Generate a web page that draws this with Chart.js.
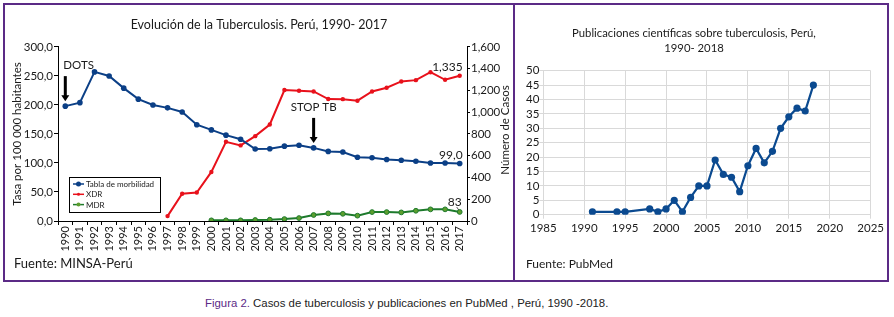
<!DOCTYPE html>
<html lang="es">
<head>
<meta charset="utf-8">
<script src="https://cdn.jsdelivr.net/npm/chart.js@4.4.1/dist/chart.umd.min.js"></script>
<style>
  html, body { margin: 0; padding: 0; background: #fff; }
  body { width: 894px; height: 317px; position: relative; overflow: hidden; font-family: Lato, sans-serif; }
  .marco { position: absolute; left: 3px; top: 3px; width: 886px; height: 279px; border: 2px solid #5b2a86; box-sizing: border-box; }
  .divisor { position: absolute; left: 513px; top: 3px; width: 2px; height: 279px; background: #5b2a86; }
  #graf1 { position: absolute; left: 5px; top: 5px; }
  #graf2 { position: absolute; left: 515px; top: 5px; }
  .fuente { position: absolute; font-size: 12px; color: #1a1a1a; top: 256px; }
  .pie { position: absolute; left: 205px; top: 297px; white-space: nowrap;
         font-family: "Liberation Sans", Arial, sans-serif; font-size: 11.4px; color: #222; }
  .pie span { color: #5b2a86; }
</style>
</head>
<body>
<div class="marco"></div>
<div class="divisor"></div>
<canvas id="graf1" width="508" height="275"></canvas>
<canvas id="graf2" width="372" height="275"></canvas>
<div class="fuente" style="left:14px; font-size:13px; top:255px">Fuente: MINSA-Perú</div>
<div class="fuente" style="left:526px">Fuente: PubMed</div>
<div class="pie"><span>Figura 2.</span> Casos de tuberculosis y publicaciones en PubMed , Perú, 1990 -2018.</div>

<script>
// Datos del grafico izquierdo (1990 - 2017)
var anios = ['1990', '1991', '1992', '1993', '1994', '1995', '1996', '1997', '1998', '1999',
             '2000', '2001', '2002', '2003', '2004', '2005', '2006', '2007', '2008', '2009',
             '2010', '2011', '2012', '2013', '2014', '2015', '2016', '2017'];
var morbilidad = [198, 204, 257, 250, 229, 210, 200, 195, 188, 166,
                  157, 148, 141, 124, 124.5, 129, 130.5, 126, 120, 119,
                  110, 109, 106, 104.6, 103, 100, 100, 99];
var casosXDR = [null, null, null, null, null, null, null, 45, 250, 262,
                451, 728, 695, 780, 887, 1204, 1197, 1191, 1121, 1120,
                1106, 1191, 1225, 1283, 1295, 1368, 1298, 1335];
var casosMDR = [null, null, null, null, null, null, null, null, null, null,
                6, 6, 6, 9, 12, 18, 27, 55, 70, 66,
                49, 82, 82, 79, 94, 107, 107, 83];

// Datos del grafico derecho (publicaciones)
var aniosPub = [1991, 1994, 1995, 1998, 1999, 2000, 2001, 2002, 2003, 2004, 2005, 2006,
                2007, 2008, 2009, 2010, 2011, 2012, 2013, 2014, 2015, 2016, 2017, 2018];
var publicaciones = [1, 1, 1, 2, 1, 2, 5, 1, 6, 10, 10, 19,
                     14, 13, 8, 17, 23, 18, 22, 30, 34, 37, 36, 45];

var FUENTE = 'Lato, sans-serif';
var AZUL = '#0b3f86';
var ROJO = '#e8111b';
var VERDE = '#1d7a2c';
var TEXTO = '#1a1a1a';

// dibuja una flecha negra hacia abajo
function flecha(ctx, x, punta, largo) {
    ctx.fillStyle = '#000';
    ctx.fillRect(x - 1.5, punta - largo, 3, largo - 5);
    ctx.beginPath();
    ctx.moveTo(x - 4, punta - 6);
    ctx.lineTo(x + 4, punta - 6);
    ctx.lineTo(x, punta);
    ctx.closePath();
    ctx.fill();
}

var anotaciones = {
    id: 'anotaciones',
    afterDatasetsDraw: function (chart) {
        var ctx = chart.ctx;
        var ca = chart.chartArea;
        var azul = chart.getDatasetMeta(0).data;
        var rojo = chart.getDatasetMeta(1).data;
        var verde = chart.getDatasetMeta(2).data;
        var ult = anios.length - 1;
        ctx.save();

        // DOTS y STOP TB
        var p0 = azul[0], p17 = azul[17];
        flecha(ctx, p0.x, p0.y - 5, 25);
        flecha(ctx, p17.x, p17.y - 5, 25);
        ctx.font = '11.5px ' + FUENTE;
        ctx.fillStyle = TEXTO;
        ctx.textBaseline = 'middle';
        ctx.textAlign = 'left';
        ctx.fillText('DOTS', p0.x - 2, p0.y - 5 - 25 - 11);
        ctx.textAlign = 'center';
        ctx.fillText('STOP TB', p17.x, p17.y - 5 - 25 - 11);

        // etiquetas del ultimo valor
        ctx.font = '12px ' + FUENTE;
        ctx.textAlign = 'right';
        ctx.fillText('1,335', rojo[ult].x + 3, rojo[ult].y - 9);
        ctx.fillText('99,0', azul[ult].x + 3, azul[ult].y - 8);
        ctx.fillText('83', verde[ult].x + 2, verde[ult].y - 10);
        ctx.strokeStyle = '#333';
        ctx.lineWidth = 0.8;
        ctx.beginPath();
        ctx.moveTo(verde[ult].x - 3, verde[ult].y - 5);
        ctx.lineTo(verde[ult].x - 1, verde[ult].y - 2);
        ctx.stroke();

        // titulo del eje derecho (lectura de abajo hacia arriba)
        ctx.save();
        ctx.translate(chart.width - 8, (ca.top + ca.bottom) / 2 - 4);
        ctx.rotate(-Math.PI / 2);
        ctx.textAlign = 'center';
        ctx.font = '11.5px ' + FUENTE;
        ctx.fillText('Número de Casos', 0, 0);
        ctx.restore();

        // leyenda dentro del area
        var lx = ca.left + 11, ly = ca.bottom - 44;
        ctx.fillStyle = '#fff';
        ctx.fillRect(lx, ly, 91, 35);
        ctx.strokeStyle = '#000';
        ctx.lineWidth = 1;
        ctx.strokeRect(lx + 0.5, ly + 0.5, 91, 35);
        var items = [
            { t: 'Tabla de morbilidad', c: AZUL, r: 2.5, f: AZUL },
            { t: 'XDR', c: ROJO, r: 1.5, f: ROJO },
            { t: 'MDR', c: VERDE, r: 2, f: '#5c9e2e' }
        ];
        ctx.font = '8px ' + FUENTE;
        ctx.textAlign = 'left';
        for (var i = 0; i < items.length; i++) {
            var y = ly + 7 + i * 10.3;
            ctx.strokeStyle = items[i].c;
            ctx.lineWidth = 1.5;
            ctx.beginPath();
            ctx.moveTo(lx + 4, y);
            ctx.lineTo(lx + 15, y);
            ctx.stroke();
            ctx.beginPath();
            ctx.arc(lx + 9.5, y, items[i].r, 0, Math.PI * 2);
            ctx.fillStyle = items[i].f;
            ctx.fill();
            ctx.fillStyle = TEXTO;
            ctx.fillText(items[i].t, lx + 17, y + 0.5);
        }
        ctx.restore();
    }
};

document.addEventListener('DOMContentLoaded', function () {
    Chart.defaults.font.family = FUENTE;
    Chart.defaults.color = TEXTO;

    // Grafico 1: evolucion de la tuberculosis
    var ctx1 = document.getElementById('graf1').getContext('2d');
    new Chart(ctx1, {
        type: 'line',
        data: {
            labels: anios,
            datasets: [{
                label: 'Tabla de morbilidad',
                data: morbilidad,
                yAxisID: 'y',
                borderColor: AZUL,
                backgroundColor: AZUL,
                borderWidth: 2,
                pointRadius: 2.8,
                pointBorderWidth: 0
            }, {
                label: 'XDR',
                data: casosXDR,
                yAxisID: 'y1',
                borderColor: ROJO,
                backgroundColor: ROJO,
                borderWidth: 2,
                pointRadius: 2.2,
                pointBorderWidth: 0
            }, {
                label: 'MDR',
                data: casosMDR,
                yAxisID: 'y1',
                borderColor: VERDE,
                backgroundColor: '#5c9e2e',
                borderWidth: 2,
                pointRadius: 2.4,
                pointBorderWidth: 1
            }]
        },
        options: {
            responsive: false,
            animation: false,
            layout: { padding: { left: 0, right: 0, top: 0, bottom: 0 } },
            plugins: {
                legend: { display: false },
                tooltip: { enabled: false },
                title: {
                    display: true,
                    text: 'Evolución de la Tuberculosis. Perú, 1990- 2017',
                    color: TEXTO,
                    font: { size: 12.5, weight: 'normal', lineHeight: 1.1 },
                    padding: { top: 13.2, bottom: 15 }
                }
            },
            scales: {
                x: {
                    offset: true,
                    afterFit: function (s) { s.height = 59; },
                    grid: { offset: true, drawOnChartArea: false, color: '#000', tickLength: 4 },
                    border: { color: '#000' },
                    ticks: { autoSkip: false, minRotation: 90, maxRotation: 90, padding: 1,
                             font: { size: 11 }, color: TEXTO }
                },
                y: {
                    position: 'left',
                    min: 0,
                    max: 300,
                    afterFit: function (s) { s.width = 53; },
                    grid: { drawOnChartArea: false, color: '#000', tickLength: 4 },
                    border: { color: '#000' },
                    ticks: {
                        stepSize: 50, padding: 1, font: { size: 11.5 }, color: TEXTO,
                        callback: function (v) { return v.toFixed(1).replace('.', ','); }
                    },
                    title: {
                        display: true,
                        text: 'Tasa por 100 000 habitantes',
                        font: { size: 11.5 },
                        color: TEXTO,
                        padding: { top: 5, bottom: 0 }
                    }
                },
                y1: {
                    position: 'right',
                    min: 0,
                    max: 1600,
                    afterFit: function (s) { s.width = 46; },
                    grid: { drawOnChartArea: false, color: '#000', tickLength: 3 },
                    border: { color: '#000' },
                    ticks: {
                        stepSize: 200, padding: 1, font: { size: 11.5 }, color: TEXTO,
                        callback: function (v) { return v.toLocaleString('en-US'); }
                    }
                }
            }
        },
        plugins: [anotaciones]
    });

    // Grafico 2: publicaciones cientificas
    var puntos = aniosPub.map(function (a, i) { return { x: a, y: publicaciones[i] }; });
    var ctx2 = document.getElementById('graf2').getContext('2d');
    new Chart(ctx2, {
        type: 'scatter',
        data: {
            datasets: [{
                label: 'Publicaciones',
                data: puntos,
                showLine: true,
                borderColor: '#0b4a90',
                backgroundColor: '#0b4a90',
                borderWidth: 2.2,
                pointRadius: 3.6,
                pointBorderWidth: 0
            }]
        },
        options: {
            responsive: false,
            animation: false,
            layout: { padding: { left: 0, right: 14, top: 0, bottom: 0 } },
            plugins: {
                legend: { display: false },
                tooltip: { enabled: false },
                title: {
                    display: true,
                    text: ['Publicaciones científicas sobre tuberculosis, Perú,', '1990- 2018'],
                    color: TEXTO,
                    font: { size: 11.3, weight: 'normal', lineHeight: 15 / 11.3 },
                    padding: { top: 20.5, bottom: 15.2 }
                }
            },
            scales: {
                x: {
                    type: 'linear',
                    min: 1985,
                    max: 2025,
                    afterFit: function (s) { s.height = 65.3; },
                    grid: { color: '#d9d9d9', tickLength: 4 },
                    border: { color: '#d9d9d9' },
                    ticks: { stepSize: 5, autoSkip: false, padding: 3, font: { size: 11.5 }, color: TEXTO,
                             callback: function (v) { return String(v); } }
                },
                y: {
                    min: 0,
                    max: 50,
                    afterFit: function (s) { s.width = 28.3; },
                    grid: { color: '#d9d9d9', tickLength: 4 },
                    border: { color: '#d9d9d9' },
                    ticks: { stepSize: 5, autoSkip: false, padding: 0, font: { size: 11.5 }, color: TEXTO }
                }
            }
        }
    });
});
</script>
</body>
</html>
